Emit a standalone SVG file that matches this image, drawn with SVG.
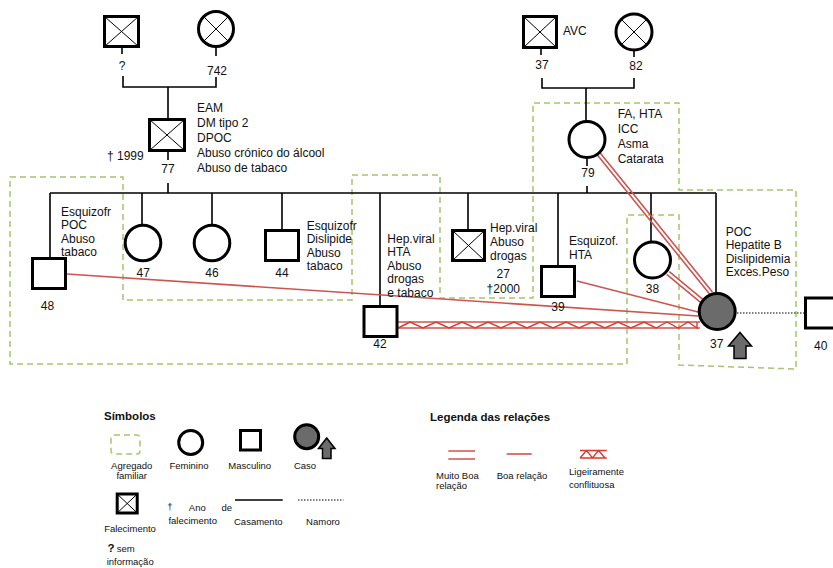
<svg xmlns="http://www.w3.org/2000/svg" width="833" height="568" viewBox="0 0 833 568">
<defs>
<style>
text{font-family:"Liberation Sans",Arial,sans-serif;font-size:12px;fill:#111}
.m{text-anchor:middle}
.lg{font-size:9.5px}
.b{font-weight:bold;font-size:11.5px}
.p{fill:#fff;stroke:#000;stroke-width:3}
.x{stroke:#000;stroke-width:1;fill:none}
.c{stroke:#000;stroke-width:1.6;fill:none}
.ag{fill:none;stroke:#a9c46c;stroke-width:1.5;stroke-dasharray:6 4}
.r{stroke:#cd5550;stroke-width:1.6;fill:none}
.z{stroke:#d93a2a;stroke-width:1.4;fill:none}
.case{fill:#6b6b6b;stroke:#000;stroke-width:3}
.arr{fill:#6b6b6b;stroke:#000;stroke-width:1.5}
.dot{stroke:#000;stroke-width:1.2;stroke-dasharray:1.5 1.5;fill:none}
</style>
</defs>
<rect width="833" height="568" fill="#fff"/>

<g id="agregado">
<path class="ag" d="M10,177 L123,177 L123,300 L352,300 L352,175 L440,175 L440,298 L533,298 L533,103 L679,103 L679,190 L796,190 L796,369 L679,365 L679,215 L627,215 L627,364 L10,364 Z"/>
</g>

<g id="connectors">
<path class="c" d="M122,48 V54 M216,47 V56 M123,76 V87 H216 V77 M168,87 V118 M168,152 V160 M168,183 V193 M50,193 H716 M50,193 V258 M142,193 V225 M212,193 V225 M282,193 V230 M380,193 V306 M468,193 V230 M558,193 V266 M587,186 V193 M651,193 V242 M716,193 V293"/>
<path class="c" d="M541,49 V55 M634,50 V57 M542,78 V88 H634 V78 M586,88 V121 M587,158 V166"/>
<path class="dot" d="M737,313 H805"/>
<g id="relations">
<path class="r" d="M67,274 L698,316"/>
<path class="r" d="M577,281 L698,312"/>
<path class="r" d="M599.4,151.9 L712.4,291.9 M596.6,154.1 L709.6,294.1"/>
<path class="r" d="M669.3,271.6 L704.3,300.6 M666.7,274.4 L701.7,303.4"/>
<path class="r" d="M398,322 H700 M398,328 H700"/>
<path class="z" d="M398,328 L410,322 L423,328 L436,322 L449,328 L462,322 L475,328 L488,322 L501,328 L514,322 L527,328 L540,322 L553,328 L566,322 L579,328 L592,322 L605,328 L618,322 L631,328 L644,322 L656,328 L667,322 L678,328 L688,322 L697,328 L697,322"/>
</g>
</g>

<g id="gf-paterno">
<rect class="p" x="104.5" y="16.5" width="34" height="30"/>
<path class="x" d="M104.5,16.5 L138.5,46.5 M138.5,16.5 L104.5,46.5"/>
<text class="m" x="122" y="70">?</text>
</g>
<g id="gm-paterna">
<circle class="p" cx="216" cy="29" r="17.5"/>
<path class="x" d="M203.6,16.6 L228.4,41.4 M228.4,16.6 L203.6,41.4"/>
<text class="m" x="217" y="75">742</text>
</g>
<g id="pai">
<rect class="p" x="149.5" y="119.5" width="35" height="31"/>
<path class="x" d="M149.5,119.5 L184.5,150.5 M184.5,119.5 L149.5,150.5"/>
<text class="m" x="168" y="173">77</text>
<text x="107" y="160">† 1999</text>
<text x="197" y="111.7">EAM</text>
<text x="197" y="126.8">DM tipo 2</text>
<text x="197" y="141.9">DPOC</text>
<text x="197" y="157">Abuso crónico do álcool</text>
<text x="197" y="172.1">Abuso de tabaco</text>
</g>
<g id="gf-materno">
<rect class="p" x="523.5" y="16.5" width="33" height="31"/>
<path class="x" d="M523.5,16.5 L556.5,47.5 M556.5,16.5 L523.5,47.5"/>
<text x="563" y="35">AVC</text>
<text class="m" x="542" y="68.5">37</text>
</g>
<g id="gm-materna">
<circle class="p" cx="634" cy="32" r="18"/>
<path class="x" d="M621.3,19.3 L646.7,44.7 M646.7,19.3 L621.3,44.7"/>
<text class="m" x="636" y="69.5">82</text>
</g>
<g id="mae">
<circle class="p" cx="587" cy="139.5" r="18"/>
<text class="m" x="588" y="177.3">79</text>
<text x="617.7" y="117.8">FA, HTA</text>
<text x="617.7" y="132.8">ICC</text>
<text x="617.7" y="148.3">Asma</text>
<text x="617.7" y="162.8">Catarata</text>
</g>

<g id="irmao-48">
<rect class="p" x="32.5" y="258.5" width="33" height="30"/>
<text class="m" x="47.5" y="310">48</text>
<text x="61" y="216">Esquizofr</text>
<text x="61" y="229.4">POC</text>
<text x="61" y="242.8">Abuso</text>
<text x="61" y="256.2">tabaco</text>
</g>
<g id="irma-47">
<circle class="p" cx="143" cy="243" r="17.8"/>
<text class="m" x="143.3" y="276.7">47</text>
</g>
<g id="irma-46">
<circle class="p" cx="212" cy="243" r="17.8"/>
<text class="m" x="212" y="276.7">46</text>
</g>
<g id="irmao-44">
<rect class="p" x="265.5" y="230.5" width="33" height="30"/>
<text class="m" x="282" y="277">44</text>
<text x="306.7" y="229.5">Esquizofr</text>
<text x="306.7" y="243">Dislipide</text>
<text x="306.7" y="256.5">Abuso</text>
<text x="306.7" y="270">tabaco</text>
</g>
<g id="irmao-42">
<rect class="p" x="364" y="306.5" width="33" height="30"/>
<text class="m" x="380" y="348.3">42</text>
<text x="387.3" y="242.7">Hep.viral</text>
<text x="387.3" y="256.2">HTA</text>
<text x="387.3" y="269.7">Abuso</text>
<text x="387.3" y="283.2">drogas</text>
<text x="387.3" y="296.7">e tabaco</text>
</g>
<g id="irmao-27">
<rect class="p" x="452.5" y="230.5" width="32" height="30"/>
<path class="x" d="M452.5,230.5 L484.5,260.5 M484.5,230.5 L452.5,260.5"/>
<text x="490" y="232">Hep.viral</text>
<text x="490" y="246">Abuso</text>
<text x="490" y="259.5">drogas</text>
<text class="m" x="503.3" y="278.3">27</text>
<text class="m" x="503.3" y="292.7">†2000</text>
</g>
<g id="irmao-39">
<rect class="p" x="541.5" y="266.5" width="33" height="30"/>
<text class="m" x="558" y="311">39</text>
<text x="569" y="245">Esquizof.</text>
<text x="569" y="258.6">HTA</text>
</g>
<g id="irma-38">
<circle class="p" cx="652.5" cy="260" r="18"/>
<text class="m" x="652.5" y="293.3">38</text>
</g>
<g id="caso-37">
<circle class="case" cx="717.2" cy="311.5" r="18"/>
<path class="arr" d="M740,332.5 L751.5,346 L746,346 L746,358.5 L734,358.5 L734,346 L728.5,346 Z"/>
<text class="m" x="716.7" y="347.7">37</text>
<text x="725.7" y="236">POC</text>
<text x="725.7" y="249.4">Hepatite B</text>
<text x="725.7" y="262.8">Dislipidemia</text>
<text x="725.7" y="276.2">Exces.Peso</text>
</g>
<g id="namorado-40">
<rect class="p" x="805.5" y="298" width="33" height="30"/>
<text class="m" x="820.7" y="350">40</text>
</g>

<g id="legenda-simbolos">
<text class="b" x="104" y="419.5">Símbolos</text>
<rect class="ag" x="111" y="435" width="29" height="19" rx="3" stroke-dasharray="4 3"/>
<text class="lg m" x="131.7" y="468.5">Agregado</text>
<text class="lg m" x="131.7" y="479">familiar</text>
<circle class="p" cx="190.7" cy="442.5" r="12" stroke-width="2.6"/>
<text class="lg m" x="189" y="469">Feminino</text>
<rect class="p" x="240.5" y="430.5" width="20" height="19.5" stroke-width="2.6"/>
<text class="lg m" x="249.7" y="469">Masculino</text>
<circle class="case" cx="306.7" cy="436.7" r="12" stroke-width="2.6"/>
<path class="arr" d="M326.7,438 L335,448.5 L331,448.5 L331,458.5 L322.5,458.5 L322.5,448.5 L318.5,448.5 Z" stroke-width="1.2"/>
<text class="lg m" x="305" y="469">Caso</text>
<rect class="p" x="117.2" y="494" width="20" height="19" stroke-width="2.6"/>
<path class="x" d="M117.2,494 L137.2,513 M137.2,494 L117.2,513"/>
<text class="lg m" x="130" y="531.5">Falecimento</text>
<text class="lg m" x="170" y="510">†</text>
<text class="lg m" x="197.3" y="510.5">Ano</text>
<text class="lg m" x="226.7" y="510.5">de</text>
<text class="lg m" x="192.7" y="523.5">falecimento</text>
<path class="c" d="M235,500 H282.7"/>
<text class="lg m" x="258.3" y="525">Casamento</text>
<path class="dot" d="M298,500 H343.5" stroke-width="1"/>
<text class="lg m" x="323" y="524.5">Namoro</text>
<text class="b" x="107.5" y="552.3">?</text>
<text class="lg" x="116.7" y="552.3">sem</text>
<text class="lg" x="106.7" y="565">informação</text>
</g>

<g id="legenda-relacoes">
<text class="b" x="430" y="421">Legenda das relações</text>
<path class="r" d="M448.3,451 H475 M448.3,459 H475" stroke-width="2"/>
<text class="lg" x="436" y="478.5">Muito Boa</text>
<text class="lg" x="436" y="489">relação</text>
<path class="r" d="M506.7,454 H531.7" stroke-width="2"/>
<text class="lg" x="496.7" y="478.5">Boa relação</text>
<path class="z" d="M580,450.5 H606.7 M580,458 H606.7 M580,458 L586.5,450.5 L592.5,458 L598.5,450.5 L605,458" stroke-width="1.8"/>
<text class="lg" x="569" y="474.5">Ligeiramente</text>
<text class="lg" x="569" y="487.5">conflituosa</text>
</g>
</svg>
